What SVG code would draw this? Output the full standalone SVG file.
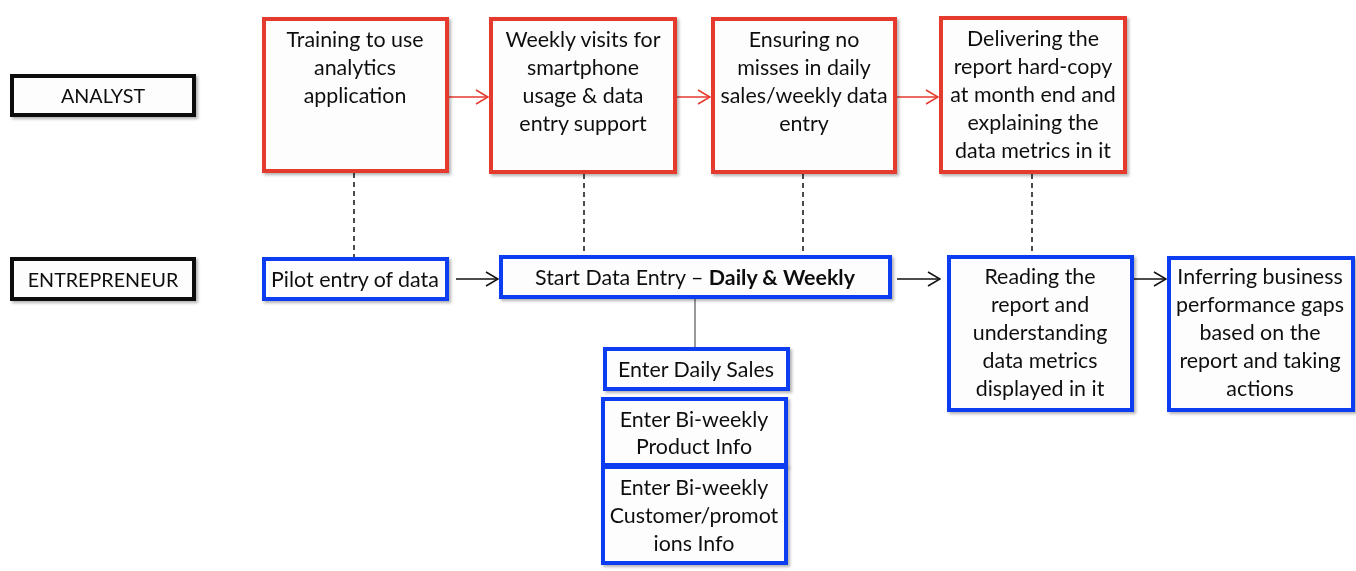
<svg xmlns="http://www.w3.org/2000/svg" width="1356" height="571" viewBox="0 0 1356 571">
<defs>
<style>
.t{font-family:Lato,"Liberation Sans",sans-serif;font-size:21.4px;fill:#111;text-anchor:middle}
.rt{font-size:19.7px}
.role{fill:#fdfdfd;stroke:#0a0a0a;stroke-width:4}
.red{fill:#fdfdfd;stroke:#e53a2e;stroke-width:4}
.blue{fill:#fdfdfd;stroke:#0b3cf0;stroke-width:4}
.ra{stroke:#e53a2e;stroke-width:1.5;fill:none;marker-end:url(#mr)}
.ba{stroke:#111;stroke-width:1.5;fill:none;marker-end:url(#mb)}
.dash{stroke:#111;stroke-width:1.5;stroke-dasharray:5,4;fill:none}
</style>
<filter id="sh" x="-10%" y="-10%" width="130%" height="130%">
<feDropShadow dx="2" dy="2" stdDeviation="1.5" flood-color="#000" flood-opacity="0.3"/>
</filter>
<marker id="mr" viewBox="0 0 14 16" refX="13" refY="8" markerWidth="14" markerHeight="16" markerUnits="userSpaceOnUse" orient="auto">
<path d="M1,1 L13,8 L1,15" fill="none" stroke="#e53a2e" stroke-width="1.5"/>
</marker>
<marker id="mb" viewBox="0 0 14 16" refX="13" refY="8" markerWidth="14" markerHeight="16" markerUnits="userSpaceOnUse" orient="auto">
<path d="M1,1 L13,8 L1,15" fill="none" stroke="#111" stroke-width="1.5"/>
</marker>
</defs>
<rect width="1356" height="571" fill="#fff"/>

<g id="connectors">
<line class="ra" x1="449" y1="97" x2="488" y2="97"/>
<line class="ra" x1="673" y1="97" x2="710" y2="97"/>
<line class="ra" x1="897" y1="97" x2="938" y2="97"/>
<line class="dash" x1="354" y1="173" x2="354" y2="257"/>
<line class="dash" x1="584" y1="174" x2="584" y2="255"/>
<line class="dash" x1="803" y1="174" x2="803" y2="255"/>
<line class="dash" x1="1032" y1="174" x2="1032" y2="255"/>
<line class="ba" x1="456" y1="279" x2="498" y2="279"/>
<line class="ba" x1="897" y1="279" x2="940" y2="279"/>
<line class="ba" x1="1126" y1="279" x2="1166" y2="279"/>
<line x1="695" y1="299" x2="695" y2="347" stroke="#777" stroke-width="1.5"/>
</g>

<g id="analyst" filter="url(#sh)">
<rect class="role" x="12" y="76" width="182" height="39"/>
<text class="t rt" x="103" y="103">ANALYST</text>
</g>
<g id="entrepreneur" filter="url(#sh)">
<rect class="role" x="12" y="259" width="182" height="40"/>
<text class="t rt" x="103" y="287">ENTREPRENEUR</text>
</g>

<g id="training" filter="url(#sh)">
<rect class="red" x="264" y="19" width="183" height="152"/>
<text class="t" x="355" y="47">Training to use</text>
<text class="t" x="355" y="75">analytics</text>
<text class="t" x="355" y="103">application</text>
</g>
<g id="weekly-visits" filter="url(#sh)">
<rect class="red" x="491" y="19" width="184" height="153"/>
<text class="t" x="583" y="47">Weekly visits for</text>
<text class="t" x="583" y="75">smartphone</text>
<text class="t" x="583" y="103">usage &amp; data</text>
<text class="t" x="583" y="131">entry support</text>
</g>
<g id="ensuring" filter="url(#sh)">
<rect class="red" x="713" y="19" width="182" height="153"/>
<text class="t" x="804" y="47">Ensuring no</text>
<text class="t" x="804" y="75">misses in daily</text>
<text class="t" x="804" y="103">sales/weekly data</text>
<text class="t" x="804" y="131">entry</text>
</g>
<g id="delivering" filter="url(#sh)">
<rect class="red" x="941" y="18" width="184" height="154"/>
<text class="t" x="1033" y="46">Delivering the</text>
<text class="t" x="1033" y="74">report hard-copy</text>
<text class="t" x="1033" y="102">at month end and</text>
<text class="t" x="1033" y="130">explaining the</text>
<text class="t" x="1033" y="158">data metrics in it</text>
</g>

<g id="pilot" filter="url(#sh)">
<rect class="blue" x="264" y="259" width="183" height="40"/>
<text class="t" x="355" y="287">Pilot entry of data</text>
</g>
<g id="start-data-entry" filter="url(#sh)">
<rect class="blue" x="501" y="257" width="389" height="40"/>
<text class="t" x="695" y="285">Start Data Entry – <tspan font-weight="bold">Daily &amp; Weekly</tspan></text>
</g>
<g id="daily-sales" filter="url(#sh)">
<rect class="blue" x="605" y="349" width="183" height="40"/>
<text class="t" x="696" y="377">Enter Daily Sales</text>
</g>
<g id="product-info" filter="url(#sh)">
<rect class="blue" x="603" y="399" width="183" height="66"/>
<text class="t" x="694" y="427">Enter Bi-weekly</text>
<text class="t" x="694" y="454">Product Info</text>
</g>
<g id="customer-info" filter="url(#sh)">
<rect class="blue" x="603" y="467" width="183" height="96"/>
<text class="t" x="694" y="495">Enter Bi-weekly</text>
<text class="t" x="694" y="523">Customer/promot</text>
<text class="t" x="694" y="551">ions Info</text>
</g>
<g id="reading" filter="url(#sh)">
<rect class="blue" x="949" y="257" width="183" height="153"/>
<text class="t" x="1040" y="284">Reading the</text>
<text class="t" x="1040" y="312">report and</text>
<text class="t" x="1040" y="340">understanding</text>
<text class="t" x="1040" y="368">data metrics</text>
<text class="t" x="1040" y="396">displayed in it</text>
</g>
<g id="inferring" filter="url(#sh)">
<rect class="blue" x="1169" y="258" width="184" height="152"/>
<text class="t" x="1260" y="284">Inferring business</text>
<text class="t" x="1260" y="312">performance gaps</text>
<text class="t" x="1260" y="340">based on the</text>
<text class="t" x="1260" y="368">report and taking</text>
<text class="t" x="1260" y="396">actions</text>
</g>
</svg>
